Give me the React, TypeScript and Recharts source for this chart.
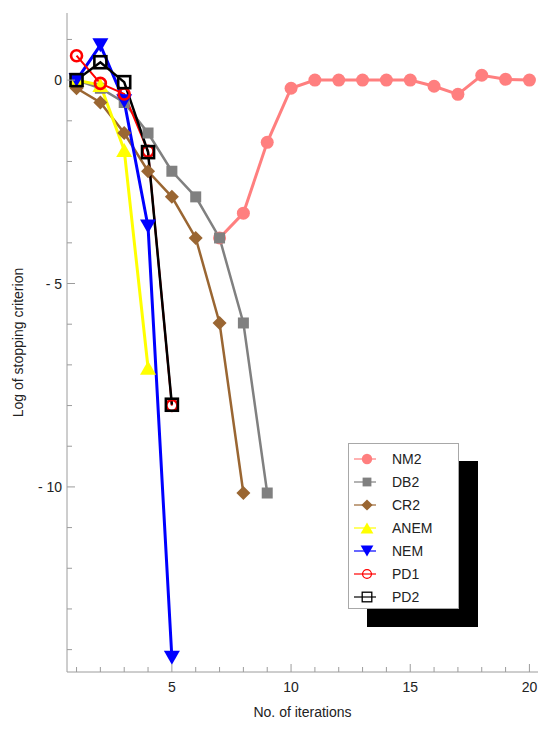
import React from 'react';
import { LineChart, Line, XAxis, YAxis, Legend, Label } from 'recharts';

const ITERATIONS = [1, 2, 3, 4, 5, 6, 7, 8, 9, 10, 11, 12, 13, 14, 15, 16, 17, 18, 19, 20];
const NM2 = [null, null, null, null, null, null, -3.88, -3.27, -1.53, -0.2, 0, 0, 0, 0, 0, -0.15, -0.35, 0.12, 0.02, 0];
const DB2 = [0, -0.2, -0.55, -1.3, -2.24, -2.87, -3.88, -5.97, -10.15];
const CR2 = [-0.2, -0.55, -1.3, -2.24, -2.87, -3.88, -5.97, -10.15];
const ANEM = [0, -0.12, -1.72, -7.07];
const NEM = [0, 0.86, -0.52, -3.6, -14.2];
const PD1 = [0.6, -0.08, -0.34, -1.75, -8.0];
const PD2 = [0, 0.44, -0.05, -1.77, -7.98];

const X_LABELED = [5, 10, 15, 20];
const Y_TICKS = [1, 0, -1, -2, -3, -4, -5, -6, -7, -8, -9, -10, -11, -12, -13, -14];
const Y_LABELED = [0, -5, -10];
const Y_LABELS = ['0', '- 5', '- 10'];

const X_DOMAIN = [0.6, 20.36];
const Y_DOMAIN = [-14.55, 1.65];
const FRAME = '#9c9c9c';
const INK = '#222';

type Shape = 'circle' | 'square' | 'diamond' | 'up' | 'down' | 'ocircle' | 'osquare';

const SERIES: { key: string; values: (number | null)[]; color: string; width: number; shape: Shape }[] = [
  { key: 'NM2', values: NM2, color: '#ff7f7f', width: 3, shape: 'circle' },
  { key: 'DB2', values: DB2, color: '#808080', width: 2.5, shape: 'square' },
  { key: 'CR2', values: CR2, color: '#9a6632', width: 2.5, shape: 'diamond' },
  { key: 'ANEM', values: ANEM, color: '#ffff00', width: 3, shape: 'up' },
  { key: 'NEM', values: NEM, color: '#0000ff', width: 3, shape: 'down' },
  { key: 'PD1', values: PD1, color: '#ff0000', width: 2, shape: 'ocircle' },
  { key: 'PD2', values: PD2, color: '#000000', width: 2.5, shape: 'osquare' },
];

const data = ITERATIONS.map((it, i) => {
  const row: Record<string, number | null> = { iter: it };
  SERIES.forEach(s => { row[s.key] = s.values[i] ?? null; });
  return row;
});

function Marker({ shape, cx, cy, color, k = 1, sw = 2.6 }: { shape: Shape; cx: number; cy: number; color: string; k?: number; sw?: number }) {
  switch (shape) {
    case 'circle':
      return <circle cx={cx} cy={cy} r={6.5 * k} fill={color} />;
    case 'square':
      return <rect x={cx - 5.5 * k} y={cy - 5.5 * k} width={11 * k} height={11 * k} fill={color} />;
    case 'diamond': {
      const d = 7 * k;
      return <polygon points={`${cx},${cy - d} ${cx + d},${cy} ${cx},${cy + d} ${cx - d},${cy}`} fill={color} />;
    }
    case 'up': {
      const w = 8 * k, h = 7 * k;
      return <polygon points={`${cx},${cy - h} ${cx + w},${cy + h} ${cx - w},${cy + h}`} fill={color} />;
    }
    case 'down': {
      const w = 8 * k, h = 7 * k;
      return <polygon points={`${cx - w},${cy - h} ${cx + w},${cy - h} ${cx},${cy + h}`} fill={color} />;
    }
    case 'ocircle':
      return <circle cx={cx} cy={cy} r={5.5 * k} fill="none" stroke={color} strokeWidth={sw} />;
    case 'osquare':
      return <rect x={cx - 6 * k} y={cy - 6 * k} width={12 * k} height={12 * k} fill="none" stroke={color} strokeWidth={sw} />;
  }
  return null;
}

const BottomTick = (p: any) => {
  const v = p.payload.value;
  const major = X_LABELED.includes(v);
  return (
    <g>
      <line x1={p.x} x2={p.x} y1={p.y} y2={p.y - (major ? 8 : 5)} stroke={FRAME} />
      {major && (
        <text x={p.x} y={p.y + 20} textAnchor="middle" fontSize={14} fill={INK}>{v}</text>
      )}
    </g>
  );
};

const TopTick = (p: any) => {
  const major = X_LABELED.includes(p.payload.value);
  return <line x1={p.x} x2={p.x} y1={p.y} y2={p.y + (major ? 7 : 4)} stroke={FRAME} />;
};

const LeftTick = (p: any) => {
  const v = p.payload.value;
  const idx = Y_LABELED.indexOf(v);
  return (
    <g>
      <line x1={p.x} x2={p.x + (idx >= 0 ? 8 : 5)} y1={p.y} y2={p.y} stroke={FRAME} />
      {idx >= 0 && (
        <text x={p.x - 5} y={p.y + 5} textAnchor="end" fontSize={14} fill={INK}>{Y_LABELS[idx]}</text>
      )}
    </g>
  );
};

const RightTick = (p: any) => {
  const major = Y_LABELED.includes(p.payload.value);
  return <line x1={p.x} x2={p.x - (major ? 8 : 5)} y1={p.y} y2={p.y} stroke={FRAME} />;
};

const LegendBox = () => (
  <div
    style={{
      width: 111, height: 166, boxSizing: 'border-box', background: '#fff',
      border: '1px solid #a8a8a8', boxShadow: '19px 18px 0 #000',
      fontFamily: '"Liberation Sans", Arial, sans-serif', fontSize: 14, color: INK,
      paddingTop: 3,
    }}
  >
    {SERIES.map(s => (
      <div key={s.key} style={{ height: 23, display: 'flex', alignItems: 'center' }}>
        <svg width={40} height={20} style={{ display: 'block' }}>
          <line x1={5} x2={27} y1={10} y2={10} stroke={s.color} strokeWidth={1.2} />
          <Marker shape={s.shape} cx={18} cy={10} color={s.color} k={0.8} sw={1.3} />
        </svg>
        <span style={{ marginLeft: 3 }}>{s.key}</span>
      </div>
    ))}
  </div>
);

export default function App() {
  return (
    <div style={{ position: 'absolute', left: 0, top: 0, width: 550, height: 729, background: '#fff', fontFamily: '"Liberation Sans", Arial, sans-serif' }}>
      <LineChart width={550} height={729} data={data} margin={{ top: 13, right: 12, left: 17, bottom: 27 }}>
        <XAxis
          dataKey="iter" type="number" domain={X_DOMAIN} allowDataOverflow ticks={ITERATIONS} interval={0}
          height={30} tickSize={0} tickMargin={0} tickLine={false} axisLine={{ stroke: FRAME }} tick={BottomTick}
        >
          <Label value="No. of iterations" position="bottom" offset={5} style={{ fontSize: 14, fill: INK }} />
        </XAxis>
        <XAxis
          xAxisId="top" orientation="top" type="number" domain={X_DOMAIN} allowDataOverflow ticks={ITERATIONS} interval={0}
          height={0} tickSize={0} tickMargin={0} tickLine={false} axisLine={{ stroke: FRAME }} tick={TopTick}
        />
        <YAxis
          type="number" domain={Y_DOMAIN} allowDataOverflow ticks={Y_TICKS} interval={0}
          width={50} tickSize={0} tickMargin={0} tickLine={false} axisLine={{ stroke: FRAME }} tick={LeftTick}
        >
          <Label value="Log of stopping criterion" angle={-90} position="insideLeft" offset={1} style={{ fontSize: 14, fill: INK, textAnchor: 'middle' }} />
        </YAxis>
        <YAxis
          yAxisId="right" orientation="right" type="number" domain={Y_DOMAIN} allowDataOverflow ticks={Y_TICKS} interval={0}
          width={0} tickSize={0} tickMargin={0} tickLine={false} axisLine={{ stroke: FRAME }} tick={RightTick}
        />
        <Legend
          layout="horizontal" verticalAlign="middle" align="center"
          wrapperStyle={{ left: 348, top: 443, width: 111, height: 166 }}
          content={() => <LegendBox />}
        />
        {SERIES.map(s => (
          <Line
            key={s.key}
            dataKey={s.key}
            type="linear"
            stroke={s.color}
            strokeWidth={s.width}
            connectNulls={false}
            isAnimationActive={false}
            activeDot={false}
            dot={(p: any) =>
              p.cy == null || p.value == null
                ? <g key={`${s.key}-${p.index}`} />
                : <g key={`${s.key}-${p.index}`}><Marker shape={s.shape} cx={p.cx} cy={p.cy} color={s.color} /></g>
            }
          />
        ))}
      </LineChart>
    </div>
  );
}
